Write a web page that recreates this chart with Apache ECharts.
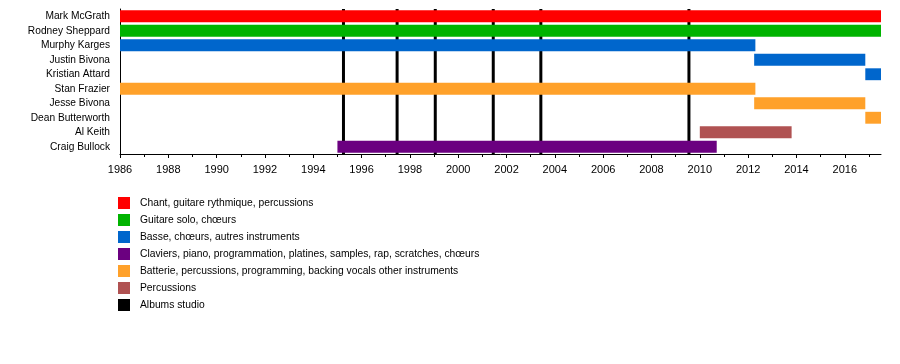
<!DOCTYPE html>
<html>
<head>
<meta charset="utf-8">
<script src="https://cdn.jsdelivr.net/npm/echarts@6/dist/echarts.min.js"></script>
<style>html,body{margin:0;padding:0;background:#fff}#c{width:900px;height:364px}</style>
</head>
<body>
<div id="c"></div>
<script>
const members = ['Mark McGrath', 'Rodney Sheppard', 'Murphy Karges', 'Justin Bivona', 'Kristian Attard', 'Stan Frazier', 'Jesse Bivona', 'Dean Butterworth', 'Al Keith', 'Craig Bullock'];
const roles = ['Chant, guitare rythmique, percussions', 'Guitare solo, chœurs', 'Basse, chœurs, autres instruments', 'Claviers, piano, programmation, platines, samples, rap, scratches, chœurs', 'Batterie, percussions, programming, backing vocals other instruments', 'Percussions'];
const roleColors = ['#ff0000', '#00b300', '#0066cc', '#6b0080', '#ffa12a', '#b05252'];
const albumLabel = 'Albums studio';
const spanMember = [0, 1, 2, 3, 4, 5, 6, 7, 8, 9];
const spanStart = [1986, 1986, 1986, 2012.25, 2016.85, 1986, 2012.25, 2016.85, 2010.0, 1995.0];
const spanEnd = [2017.5, 2017.5, 2012.3, 2016.85, 2017.5, 2012.3, 2016.85, 2017.5, 2013.8, 2010.7];
const spanRole = [0, 1, 2, 2, 2, 4, 4, 4, 5, 3];
const albumYears = [1995.25, 1997.47, 1999.05, 2001.45, 2003.42, 2009.55];
const yearMin = 1986, yearMax = 2017.5;
const yearLabels = [1986, 1988, 1990, 1992, 1994, 1996, 1998, 2000, 2002, 2004, 2006, 2008, 2010, 2012, 2014, 2016];

const FONT = 'Liberation Sans';
const chart = echarts.init(document.getElementById('c'), null, {renderer: 'canvas'});

function barRender(params, api) {
  const y = api.value(0), s = api.value(1), e = api.value(2);
  const p0 = api.coord([s, y]);
  const p1 = api.coord([e, y]);
  const h = api.size([0, 1])[1] * 0.82;
  const cs = params.coordSys;
  const shape = echarts.graphic.clipRectByRect({x: p0[0], y: p0[1] - h / 2, width: p1[0] - p0[0], height: h},
    {x: cs.x, y: cs.y, width: cs.width, height: cs.height});
  return shape && {type: 'rect', shape: shape, style: {fill: api.visual('color')}};
}

const series = roles.map((r, ri) => ({
  name: r,
  type: 'custom',
  z: 3,
  itemStyle: {color: roleColors[ri]},
  renderItem: barRender,
  encode: {x: [1, 2], y: 0},
  data: spanMember.map((m, i) => spanRole[i] === ri ? [m, spanStart[i], spanEnd[i]] : null).filter(d => d)
}));

series.push({
  name: albumLabel,
  type: 'custom',
  z: 1,
  itemStyle: {color: '#000'},
  encode: {x: 0},
  renderItem: function (params, api) {
    const cs = params.coordSys;
    const x = api.coord([api.value(0), 0])[0];
    return {type: 'line', shape: {x1: x, y1: cs.y, x2: x, y2: cs.y + cs.height}, style: {stroke: '#000', lineWidth: 3}};
  },
  data: albumYears.map(v => [v])
});

chart.setOption({
  animation: false,
  backgroundColor: '#fff',
  textStyle: {fontFamily: FONT},
  grid: {left: 120, right: 19, top: 9, height: 145},
  xAxis: {
    type: 'value', min: yearMin, max: yearMax, interval: 2,
    axisLine: {show: true, lineStyle: {color: '#000', width: 1}},
    axisTick: {show: true, length: 4, lineStyle: {color: '#000'}, customValues: yearLabels},
    minorTick: {show: true, splitNumber: 2, length: 3, lineStyle: {color: '#000'}},
    axisLabel: {color: '#000', fontSize: 11, fontFamily: FONT, margin: 10, customValues: yearLabels, formatter: v => String(v)},
    splitLine: {show: false}
  },
  yAxis: {
    type: 'category', data: members, inverse: true,
    axisLine: {show: true, lineStyle: {color: '#000', width: 1}},
    axisTick: {show: false},
    axisLabel: {color: '#000', fontSize: 10.2, fontFamily: FONT, margin: 10},
    splitLine: {show: false}
  },
  legend: {
    orient: 'vertical', left: 118, top: 197, padding: 0,
    icon: 'rect', itemWidth: 12, itemHeight: 12, itemGap: 5,
    selectedMode: false,
    textStyle: {color: '#000', fontSize: 10.3, fontFamily: FONT, padding: [2, 0, 0, 5]},
    data: roles.concat([albumLabel])
  },
  series: series
});
</script>
</body>
</html>
